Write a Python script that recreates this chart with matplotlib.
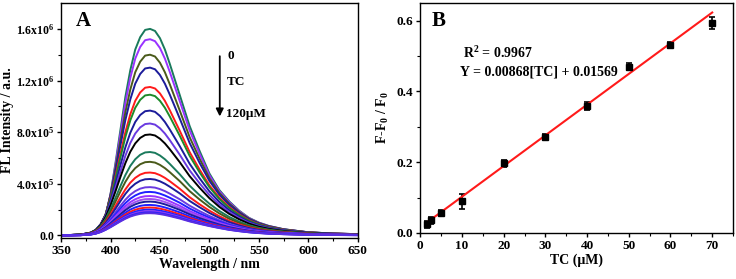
import numpy as np
import matplotlib
matplotlib.use("Agg")
import matplotlib.pyplot as plt
from matplotlib import ticker

# ---- fonts: bold Times-like everywhere
plt.rcParams.update({
    "font.family": ["Liberation Serif", "DejaVu Serif"],
    "font.weight": "bold",
    "axes.labelweight": "bold",
    "mathtext.fontset": "custom",
    "mathtext.rm": "Liberation Serif:bold",
    "mathtext.it": "Liberation Serif:bold",
    "mathtext.bf": "Liberation Serif:bold",
    "axes.linewidth": 1.0,
})

# =========================
# data — panel A (spectra)
# =========================
wl = [350, 370, 380, 385, 390, 395, 400, 405, 410, 415, 420, 425, 430, 435, 440,
      445, 450, 455, 460, 470, 480, 490, 500, 510, 520, 530, 540, 550, 560, 575,
      600, 625, 650]
# normalized shape of the top spectrum
shape_top = [0.0, 0.004, 0.008, 0.015, 0.04, 0.09, 0.20, 0.35, 0.51, 0.67, 0.80,
             0.90, 0.96, 0.995, 1.0, 0.99, 0.955, 0.90, 0.83, 0.68, 0.53, 0.41, 0.30,
             0.22, 0.165, 0.12, 0.085, 0.062, 0.046, 0.03, 0.015, 0.009, 0.006]
# normalized shape of the lowest spectrum
shape_low = [0.0, 0.01, 0.04, 0.08, 0.15, 0.25, 0.37, 0.50, 0.63, 0.75, 0.85, 0.92,
             0.97, 0.995, 1.0, 0.99, 0.96, 0.92, 0.87, 0.76, 0.63, 0.52, 0.42, 0.33,
             0.25, 0.19, 0.14, 0.105, 0.08, 0.055, 0.03, 0.018, 0.012]
# peak heights (x1e6) from top to bottom
peaks = [1.60, 1.52, 1.40, 1.30, 1.15, 1.09, 0.967, 0.867, 0.782, 0.646, 0.570,
         0.487, 0.437, 0.374, 0.337, 0.305, 0.282, 0.262, 0.236, 0.216, 0.200,
         0.188, 0.178, 0.172]
colors = ["#1a7a5c", "#9933ff", "#4a5a1a", "#1c1c9a", "#ff1a1a", "#1e8a2a",
          "#1c1c9a", "#6a3ae0", "#000000", "#1a7a5c", "#4a5a1a", "#ff1a1a",
          "#1c1c9a", "#6a3ae0", "#2020ff", "#9933ff", "#a050f0", "#1c1c9a",
          "#2020ff", "#ff1a1a", "#2020ff", "#8a3af0", "#2020ff", "#5a2ee0"]

# =========================
# data — panel B (calibration)
# =========================
tc = [1.5, 2.5, 5, 10, 20, 30, 40, 50, 60, 70]
ratio = [0.024, 0.036, 0.057, 0.089, 0.197, 0.272, 0.359, 0.470, 0.532, 0.594]
err = [0.010, 0.010, 0.008, 0.020, 0.010, 0.009, 0.010, 0.010, 0.009, 0.018]
slope, intercept = 0.00868, 0.01569

fig = plt.figure(figsize=(7.36, 2.79), dpi=100)
axA = fig.add_axes([0.083, 0.147, 0.403, 0.842])
axB = fig.add_axes([0.571, 0.165, 0.425, 0.824])

# ---- panel A
wl_a = np.array(wl)
top = np.array(shape_top)
low = np.array(shape_low)
pmax, pmin = max(peaks), min(peaks)
for p, c in zip(peaks, colors):
    w = (p - pmin) / (pmax - pmin)
    prof = w * top + (1 - w) * low
    axA.plot(wl_a, prof * p * 1e6, color=c, lw=1.4)

axA.set_xlim(350, 650)
axA.set_ylim(-2e4, 1.8e6)
axA.xaxis.set_major_locator(ticker.MultipleLocator(50))
axA.xaxis.set_minor_locator(ticker.MultipleLocator(25))
axA.yaxis.set_major_locator(ticker.FixedLocator([0, 4e5, 8e5, 1.2e6, 1.6e6]))
axA.yaxis.set_minor_locator(ticker.FixedLocator([2e5, 6e5, 1e6, 1.4e6]))
axA.yaxis.set_major_formatter(ticker.FixedFormatter(
    ["0.0", r"4.0x10$^{5}$", r"8.0x10$^{5}$", r"1.2x10$^{6}$", r"1.6x10$^{6}$"]))
axA.set_xlabel("Wavelength / nm", fontsize=10, labelpad=1)
axA.set_ylabel("FL Intensity / a.u.", fontsize=10)
axA.yaxis.set_label_coords(-0.16, 0.5)
axA.text(0.05, 0.965, "A", transform=axA.transAxes, fontsize=15, fontweight="bold",
         va="top", ha="left")
axA.annotate("", xy=(510.5, 0.90e6), xytext=(510.5, 1.41e6),
             arrowprops=dict(arrowstyle="-|>", color="black", lw=1.3,
                             mutation_scale=11))
axA.text(518, 1.39e6, "0", fontsize=9.5, va="center", ha="left")
axA.text(518, 1.19e6, "TC", fontsize=9.5, va="center", ha="left")
axA.text(517, 0.94e6, "120μM", fontsize=9.5, va="center", ha="left")

# ---- panel B
axB.errorbar(tc, ratio, yerr=err, fmt="s", color="black", ms=5, capsize=2.5,
             elinewidth=1.2, capthick=1.2)
xfit = np.array([tc[0], tc[-1]])
axB.plot(xfit, slope * xfit + intercept, color="#ff1a1a", lw=1.5)
axB.set_xlim(0, 75)
axB.set_ylim(0, 0.65)
axB.xaxis.set_major_locator(ticker.MultipleLocator(10))
axB.xaxis.set_minor_locator(ticker.MultipleLocator(5))
axB.yaxis.set_major_locator(ticker.MultipleLocator(0.2))
axB.yaxis.set_minor_locator(ticker.MultipleLocator(0.1))
axB.yaxis.set_major_formatter(ticker.StrMethodFormatter("{x:.1f}"))
axB.set_xlabel("TC (μM)", fontsize=10, labelpad=1)
axB.set_ylabel(r"F-F$_0$ / F$_0$", fontsize=10, labelpad=4)
axB.text(0.035, 0.965, "B", transform=axB.transAxes, fontsize=15, fontweight="bold",
         va="top", ha="left")
axB.text(10.3, 0.51, r"R$^2$ = 0.9967", fontsize=10, va="center", ha="left")
axB.text(9.6, 0.456, "Y = 0.00868[TC] + 0.01569", fontsize=10, va="center", ha="left")

for ax in (axA, axB):
    ax.tick_params(which="major", direction="out", length=3, width=1.0,
                   labelsize=9.5, pad=2)
    ax.tick_params(which="minor", direction="out", length=2, width=0.8)
    for lab in ax.get_xticklabels() + ax.get_yticklabels():
        lab.set_fontweight("bold")
axA.tick_params(axis="y", labelsize=8.5)

fig.savefig("out.png", dpi=100)
